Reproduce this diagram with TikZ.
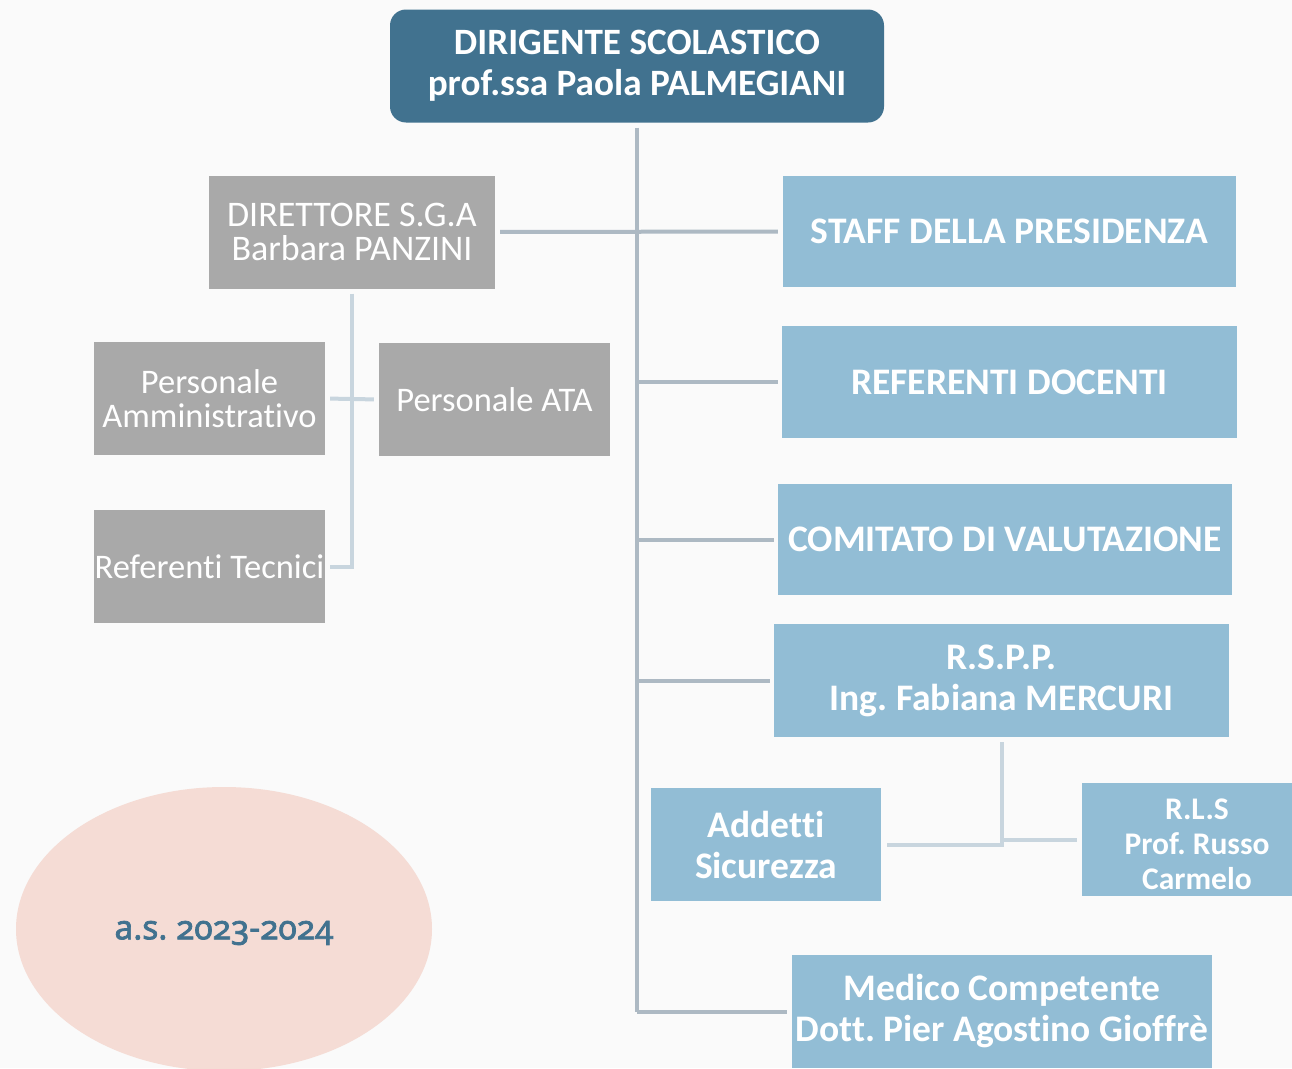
\documentclass[tikz,border=0pt]{standalone}
\usepackage{fontspec}
\setmainfont{Carlito}[Ligatures=CommonOff]
\newfontfamily\asfont[Numbers=OldStyle, FakeBold=2.2]{Noto Sans}
\usetikzlibrary{shapes.geometric}
\frenchspacing
\definecolor{bgc}{RGB}{250,250,250}
\definecolor{darkblue}{RGB}{65,114,143}
\definecolor{lightblue}{RGB}{146,189,213}
\definecolor{boxgray}{RGB}{169,169,169}
\definecolor{trunkc}{RGB}{173,185,195}
\definecolor{subc}{RGB}{200,213,222}
\definecolor{ovalc}{RGB}{245,220,213}
\tikzset{
  box/.style={rectangle, inner sep=0pt, align=center, text=white, draw=none},
  bluebox/.style={box, fill=lightblue, font=\fontsize{37.5}{41}\selectfont\bfseries},
  graybox/.style={box, fill=boxgray, font=\fontsize{34.5}{34}\selectfont},
  trunk/.style={draw=trunkc, line width=4pt},
  subline/.style={draw=subc, line width=4pt},
  gap/.style={shorten <=5pt, shorten >=5pt}
}
\begin{document}
\begin{tikzpicture}[x=1pt,y=-1pt]
\useasboundingbox (0,0) rectangle (1292,1068);
\clip (0,0) rectangle (1292,1068);
\fill[bgc] (0,0) rectangle (1292,1068);

% oval
\node[ellipse, fill=ovalc, minimum width=416pt, minimum height=284pt, inner sep=0pt,
      label={[font=\asfont\fontsize{33.5}{36}\selectfont, text=darkblue, yshift=-4pt]center:a.s. 2023-2024}] (as) at (224,929) {};

% top
\node[box, fill=darkblue, rounded corners=16pt, minimum width=494pt, minimum height=113pt,
      font=\fontsize{37.2}{41}\selectfont\bfseries] (dir) at (637,66)
      {DIRIGENTE SCOLASTICO\\prof.ssa Paola PALMEGIANI};

% left gray
\node[graybox, minimum width=286pt, minimum height=113pt, font=\fontsize{36}{34}\selectfont] (dsga) at (352,232)
      {DIRETTORE S.G.A\\Barbara PANZINI};
\node[graybox, minimum width=231pt, minimum height=113pt] (pamm) at (209.5,398.5)
      {Personale\\Amministrativo};
\node[graybox, minimum width=231pt, minimum height=113pt] (pata) at (494.5,399.5)
      {Personale ATA};
\node[graybox, minimum width=231pt, minimum height=113pt] (reftec) at (209.5,566.5)
      {Referenti Tecnici};

% right blue
\node[bluebox, minimum width=453pt, minimum height=111pt] (staff) at (1009.5,231.5)
      {STAFF DELLA PRESIDENZA};
\node[bluebox, minimum width=455pt, minimum height=112pt] (refdoc) at (1009.5,382)
      {REFERENTI DOCENTI};
\node[bluebox, minimum width=454pt, minimum height=111pt] (comit) at (1005,539.5)
      {COMITATO DI VALUTAZIONE};
\node[bluebox, minimum width=455pt, minimum height=113pt] (rspp) at (1001.5,680.5)
      {R.S.P.P.\\Ing. Fabiana MERCURI};
\node[bluebox, minimum width=230pt, minimum height=113pt] (add) at (766,844.5)
      {Addetti\\Sicurezza};
\node[bluebox, minimum width=230pt, minimum height=113pt,
      label={[font=\fontsize{31.5}{35}\selectfont\bfseries, text=white, align=center, yshift=-5pt]center:R.L.S\\Prof. Russo\\Carmelo}] (rls) at (1197,839.5) {};
\node[bluebox, minimum width=420pt, minimum height=113pt] (med) at (1002,1011.5)
      {Medico Competente\\Dott. Pier Agostino Gioffrè};

% connectors
\coordinate (tend) at (dir.south |- med.west);
\draw[trunk, shorten <=5pt] (dir.south) -- (tend);
\draw[trunk, gap] (dsga.east) -- (staff.west);
\draw[trunk, shorten >=4pt] (dir.south |- refdoc.west) -- (refdoc.west);
\draw[trunk, shorten >=4pt] (dir.south |- comit.west) -- (comit.west);
\draw[trunk, shorten >=4pt] (dir.south |- rspp.west) -- (rspp.west);
\draw[trunk, shorten >=5pt] (tend) -- (med.west);

\draw[subline, shorten <=5pt] (dsga.south) -- (dsga.south |- reftec.east) -- ([xshift=5pt]reftec.east);
\draw[subline, gap] (pamm.east) -- (pata.west);

\draw[subline, shorten <=5pt] (rspp.south) -- (rspp.south |- add.east) -- ([xshift=6pt]add.east);
\draw[subline, shorten >=5pt] (rspp.south |- rls.west) -- (rls.west);
\end{tikzpicture}
\end{document}
